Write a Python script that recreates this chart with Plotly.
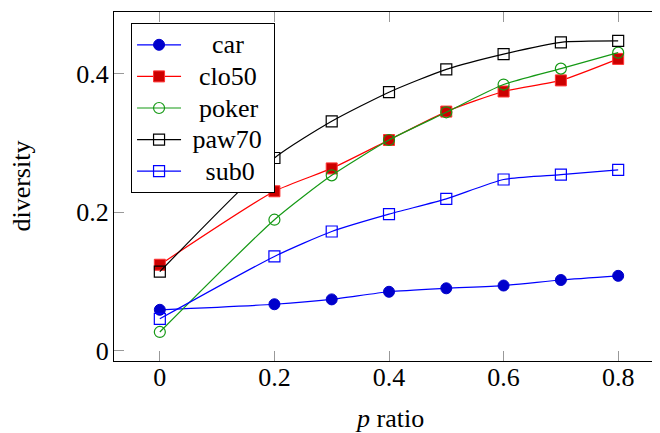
import plotly.graph_objects as go

x_vals = [0, 0.2, 0.3, 0.4, 0.5, 0.6, 0.7, 0.8]

car = [0.059, 0.067, 0.074, 0.085, 0.090, 0.094, 0.102, 0.108]
clo50 = [0.124, 0.230, 0.263, 0.304, 0.345, 0.374, 0.390, 0.421]
poker = [0.027, 0.189, 0.253, 0.304, 0.344, 0.384, 0.407, 0.430]
paw70 = [0.114, 0.278, 0.331, 0.373, 0.406, 0.428, 0.445, 0.447]
sub0 = [0.046, 0.136, 0.172, 0.197, 0.219, 0.247, 0.254, 0.261]

series_names = ["car", "clo50", "poker", "paw70", "sub0"]

x_ticks = [0, 0.2, 0.4, 0.6, 0.8]
x_tick_text = ["0", "0.2", "0.4", "0.6", "0.8"]
y_ticks = [0, 0.2, 0.4]
y_tick_text = ["0", "0.2", "0.4"]

FONT = "Liberation Serif"
NB = "\u00a0"

styles = [
    ("#0000ff", dict(symbol="circle", size=11, color="#0000cc", line=dict(color="#0000cc", width=1))),
    ("#ff0000", dict(symbol="square", size=11, color="#cc0000", line=dict(color="#ff3333", width=1))),
    ("#159915", dict(symbol="circle-open", size=11, color="#159915", line=dict(width=1.2))),
    ("#000000", dict(symbol="square-open", size=11, color="#000000", line=dict(width=1.2))),
    ("#0000ff", dict(symbol="square-open", size=11, color="#0000ff", line=dict(width=1.2))),
]
# legend text padding (to centre the labels as in the reference)
pads = [(4, 0), (2, 0), (2, 0), (1, 1), (3, 0)]

fig = go.Figure()
for name, ys, (lc, mk), (pl, pr) in zip(series_names, [car, clo50, poker, paw70, sub0], styles, pads):
    fig.add_trace(go.Scatter(
        x=x_vals, y=ys,
        name="<span style='font-size:26px'>" + NB * pl + name + NB * pr + "</span>",
        mode="lines+markers",
        line=dict(color=lc, width=1.2, shape="spline", smoothing=0.6),
        marker=mk,
    ))

axis_common = dict(
    showgrid=False, zeroline=False, showline=True, linecolor="black", linewidth=1.3,
    mirror="allticks", ticks="inside", ticklen=10, tickwidth=1, tickcolor="#999999",
    tickfont=dict(family=FONT, size=26, color="black"),
)

fig.update_xaxes(range=[-0.08, 0.88], tickvals=x_ticks, ticktext=x_tick_text,
                 ticklabelstandoff=-7, **axis_common)
fig.update_yaxes(range=[-0.0149, 0.4887], tickvals=y_ticks, ticktext=y_tick_text,
                 ticklabelstandoff=-1, **axis_common)

fig.add_annotation(text="diversity", xref="paper", yref="paper", x=-0.169, y=0.5,
                   xanchor="center", yanchor="middle",
                   textangle=-90, showarrow=False, font=dict(family=FONT, size=26, color="black"))
fig.add_annotation(text="<i>p</i> ratio", xref="paper", yref="paper", x=0.5, y=-0.166,
                   xanchor="center", yanchor="middle",
                   showarrow=False, font=dict(family=FONT, size=26, color="black"))

fig.update_layout(
    width=660, height=433,
    margin=dict(l=106, r=4, t=4, b=80),
    paper_bgcolor="white", plot_bgcolor="white",
    showlegend=True,
    legend=dict(x=0.031, y=0.9685, xanchor="left", yanchor="top", bgcolor="white",
                bordercolor="black", borderwidth=1, tracegroupgap=0, itemwidth=44,
                font=dict(family=FONT, size=22, color="black")),
)

fig.write_html("out.html")
